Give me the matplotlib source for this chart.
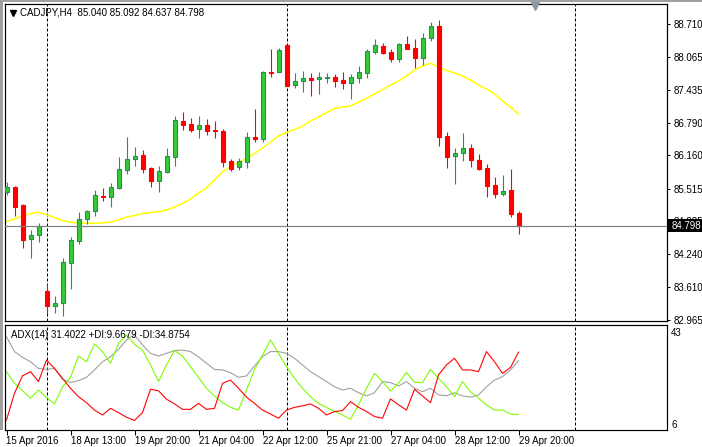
"""MT4-style CADJPY H4 chart with SMA overlay and ADX sub-window."""

import matplotlib

matplotlib.use("Agg")
import matplotlib.pyplot as plt
from matplotlib.patches import Rectangle
import numpy as np

W, H = 702, 447

symbol_title = "CADJPY,H4  85.040 85.092 84.637 84.798"
adx_title = "ADX(14) 31.4022 +DI:9.6679 -DI:34.8754"

opens = [85.451, 85.548, 85.199, 84.539, 84.617, 83.531, 83.238, 83.296, 84.073, 84.501,
         84.927, 85.083, 85.374, 85.354, 85.529, 85.878, 86.091, 86.169, 85.917, 85.665,
         85.839, 86.130, 86.829, 86.770, 86.674, 86.751, 86.654, 86.635, 86.053, 85.936,
         86.033, 86.518, 86.479, 87.779, 87.779, 88.303, 87.527, 87.605, 87.663, 87.643,
         87.663, 87.682, 87.624, 87.566, 87.663, 87.760, 88.167, 88.284, 88.167, 88.031,
         88.322, 88.245, 88.051, 88.439, 88.672, 86.538, 86.150, 86.208, 86.305, 86.072,
         85.917, 85.587, 85.412, 85.490, 85.040]
highs = [85.645, 85.568, 85.218, 84.714, 84.850, 83.666, 83.434, 84.170, 84.578, 85.063,
         85.102, 85.490, 85.529, 85.626, 86.130, 86.518, 86.324, 86.266, 85.936, 85.956,
         86.305, 86.926, 87.003, 86.887, 86.926, 86.867, 86.829, 86.674, 86.091, 86.111,
         86.615, 87.061, 87.799, 88.226, 88.245, 88.303, 87.760, 87.799, 87.760, 87.779,
         87.760, 87.740, 87.779, 87.740, 87.896, 88.226, 88.419, 88.342, 88.226, 88.342,
         88.478, 88.419, 88.536, 88.749, 88.788, 86.615, 86.305, 86.596, 86.382, 86.188,
         85.994, 85.742, 85.781, 85.897, 85.092]
lows = [85.393, 84.986, 84.365, 84.170, 84.481, 83.084, 83.104, 83.046, 83.569, 84.442,
        84.830, 84.986, 85.277, 85.160, 85.509, 85.800, 85.956, 85.820, 85.548, 85.451,
        85.820, 85.956, 86.654, 86.615, 86.499, 86.557, 86.499, 85.936, 85.859, 85.878,
        85.917, 86.421, 86.421, 87.682, 87.779, 87.508, 87.469, 87.391, 87.314, 87.352,
        87.566, 87.488, 87.449, 87.255, 87.566, 87.663, 88.128, 88.128, 87.973, 87.973,
        88.226, 87.857, 87.915, 88.381, 86.344, 85.917, 85.606, 86.053, 85.936, 85.878,
        85.354, 85.335, 85.374, 84.966, 84.637]
closes = [85.548, 85.160, 84.520, 84.617, 84.792, 83.238, 83.296, 84.093, 84.520, 84.927,
          85.083, 85.393, 85.354, 85.548, 85.897, 86.091, 86.150, 85.897, 85.665, 85.859,
          86.150, 86.848, 86.751, 86.654, 86.751, 86.635, 86.635, 86.033, 85.897, 86.053,
          86.518, 86.479, 87.779, 87.760, 88.206, 87.508, 87.605, 87.663, 87.624, 87.682,
          87.682, 87.605, 87.566, 87.682, 87.779, 88.187, 88.303, 88.148, 88.031, 88.322,
          88.226, 88.051, 88.439, 88.672, 86.518, 86.130, 86.208, 86.305, 86.072, 85.897,
          85.568, 85.412, 85.471, 85.024, 84.798]

sma_values = [84.879, 84.927, 84.986, 85.034, 85.057, 85.013, 84.955, 84.899, 84.864, 84.850,
              84.844, 84.844, 84.850, 84.869, 84.908, 84.966, 84.995, 85.034, 85.053, 85.073,
              85.102, 85.160, 85.228, 85.315, 85.432, 85.529, 85.684, 85.839, 85.946, 86.024,
              86.101, 86.198, 86.305, 86.421, 86.538, 86.606, 86.664, 86.732, 86.829, 86.906,
              86.994, 87.071, 87.100, 87.120, 87.197, 87.265, 87.352, 87.439, 87.527, 87.605,
              87.702, 87.818, 87.896, 87.948, 87.876, 87.808, 87.760, 87.702, 87.624, 87.527,
              87.449, 87.352, 87.217, 87.100, 86.964]

adx_main = [41.1, 35.1, 32.8, 31.0, 28.3, 27.9, 28.3, 23.9, 22.6, 23.4,
            24.7, 27.7, 31.0, 33.0, 36.0, 39.8, 41.8, 37.8, 34.4, 33.3,
            34.4, 35.5, 35.7, 35.1, 33.0, 30.4, 27.9, 27.7, 26.6, 24.7,
            25.3, 29.3, 33.0, 35.1, 35.1, 34.4, 32.4, 29.7, 27.0, 25.0,
            23.0, 20.9, 19.6, 20.3, 18.5, 17.2, 18.5, 23.0, 22.6, 21.2,
            23.0, 20.3, 18.9, 20.3, 17.6, 17.3, 18.5, 17.2, 16.7, 17.6,
            20.9, 23.6, 25.0, 27.7, 31.4]
plus_di = [27.0, 22.3, 19.3, 16.3, 19.6, 16.5, 14.0, 20.9, 24.7, 33.3,
           31.0, 38.2, 35.1, 30.4, 38.4, 41.8, 38.0, 35.7, 29.7, 23.0,
           29.7, 35.5, 33.3, 29.0, 24.7, 20.3, 17.2, 14.5, 12.6, 11.5,
           19.6, 27.9, 33.7, 39.8, 34.4, 29.0, 24.3, 20.3, 16.9, 14.2,
           12.6, 10.9, 9.5, 7.8, 13.6, 20.3, 26.3, 23.0, 19.2, 22.3,
           26.7, 22.7, 22.6, 27.9, 24.3, 20.9, 16.9, 23.0, 18.9, 16.3,
           13.6, 11.5, 11.5, 9.9, 9.7]
minus_di = [7.5, 18.3, 25.3, 27.0, 23.0, 31.7, 28.3, 24.3, 20.3, 16.9,
            14.5, 11.5, 9.5, 12.2, 10.5, 8.6, 7.3, 10.5, 19.9, 19.3,
            15.9, 14.0, 11.8, 11.8, 14.2, 11.8, 12.2, 22.3, 23.6, 20.3,
            16.7, 14.2, 11.5, 9.9, 8.2, 11.5, 12.6, 13.2, 14.0, 12.2,
            9.5, 10.9, 11.3, 14.9, 12.6, 10.9, 8.9, 8.2, 16.0, 13.6,
            11.5, 19.9, 17.2, 14.5, 25.7, 29.7, 32.4, 27.7, 27.7, 27.0,
            35.1, 31.0, 26.3, 28.7, 34.9]

price_ticks = [88.710, 88.065, 87.435, 86.790, 86.160, 85.515, 84.885, 84.240, 83.610, 82.965]
time_tick_bars = [0, 8, 16, 24, 32, 40, 48, 56, 64]
time_tick_labels = ["15 Apr 2016", "18 Apr 13:00", "19 Apr 20:00", "21 Apr 04:00",
                    "22 Apr 12:00", "25 Apr 21:00", "27 Apr 04:00", "28 Apr 12:00",
                    "29 Apr 20:00"]
separator_bars = [5, 35, 71]
shift_marker_bar = 66
last_price = 84.798
adx_labels = [43, 6]

BULL_FACE = "#32cd32"
BULL_EDGE = "#2e8b57"
BEAR = "#ff0000"
PX = 0.72  # one pixel in points at 100 dpi

plt.rcParams["font.family"] = ["Liberation Sans", "DejaVu Sans"]
plt.rcParams["font.size"] = 7


def fx(px):
    return px / W


def fy(py):
    return 1 - py / H


fig = plt.figure(figsize=(W / 100, H / 100), dpi=100)
fig.patch.set_facecolor("white")

# bar k sits at pixel 6.5 + 8k, plot area spans x 5..667
x_left = -(6.5 - 5) / 8
x_right = x_left + (667 - 5) / 8

ax = fig.add_axes([fx(5), fy(321), (667 - 5) / W, (321 - 4) / H])
ax_adx = fig.add_axes([fx(5), fy(430), (667 - 5) / W, (430 - 325) / H])

for a in (ax, ax_adx):
    a.set_xlim(x_left, x_right)
    a.set_facecolor("white")
    for s in a.spines.values():
        s.set_linewidth(PX * 1.2)
        s.set_color("black")
    for b in separator_bars:
        a.axvline(b, color="black", lw=PX, ls=(0, (3, 2)), zorder=1)

# ---- price panel
px_per_unit = 51.56
y_top = 88.710 + (24 - 4) / px_per_unit
y_bot = y_top - (321 - 4) / px_per_unit
ax.set_ylim(y_bot, y_top)

o = np.array(opens)
h = np.array(highs)
l = np.array(lows)
c = np.array(closes)
x = np.arange(len(o))
up = c >= o

ax.plot(x, sma_values, color="#ffff00", lw=1.1, zorder=2)

ax.vlines(x[up], l[up], h[up], color=BULL_EDGE, lw=PX * 1.1, zorder=3)
ax.vlines(x[~up], l[~up], h[~up], color=BEAR, lw=PX * 1.1, zorder=3)
body_lo = np.minimum(o, c)
body_h = np.maximum(np.abs(c - o), 0.012)
ax.bar(x[up], body_h[up], 0.5, bottom=body_lo[up], color=BULL_FACE,
       edgecolor=BULL_EDGE, linewidth=PX * 1.1, zorder=4)
ax.bar(x[~up], body_h[~up], 0.5, bottom=body_lo[~up], color=BEAR,
       edgecolor=BEAR, linewidth=PX * 1.1, zorder=4)

ax.axhline(last_price, color="#808080", lw=PX * 1.2, zorder=5)

ax.set_xticks([])
ax.yaxis.tick_right()
ax.set_yticks(price_ticks)
ax.set_yticklabels([f"{p:.3f}" for p in price_ticks])
ax.tick_params(axis="y", direction="out", length=2.5, width=PX, pad=2, labelsize=7)

# ---- ADX panel
adx_px_per_unit = (423.7 - 332) / (43 - 6)
adx_top = 43 + (332 - 325) / adx_px_per_unit
adx_bot = adx_top - (430 - 325) / adx_px_per_unit
ax_adx.set_ylim(adx_bot, adx_top)
ax_adx.plot(np.arange(len(adx_main)), adx_main, color="#a0a0a0", lw=PX * 1.1)
ax_adx.plot(np.arange(len(plus_di)), plus_di, color="#7cfc00", lw=PX * 1.1)
ax_adx.plot(np.arange(len(minus_di)), minus_di, color="#ff0000", lw=PX * 1.1)

ax_adx.yaxis.tick_right()
ax_adx.set_yticks(adx_labels)
ax_adx.set_yticklabels([str(v) for v in adx_labels])
ax_adx.tick_params(axis="y", direction="out", length=0, pad=3, labelsize=7)
ax_adx.set_xticks(time_tick_bars)
ax_adx.set_xticklabels(time_tick_labels, ha="left")
ax_adx.tick_params(axis="x", direction="out", length=3.5, width=PX, pad=1, labelsize=7)

fig.text(fx(11), fy(335), adx_title, ha="left", va="center", fontsize=7)

# ---- window furniture
fig.text(fx(20.5), fy(12.7), symbol_title, ha="left", va="center", fontsize=7)
fig.lines.append(plt.Line2D([fx(12.7)], [fy(13)], marker="v", markersize=4.5,
                            color="black", transform=fig.transFigure))
ax.plot([shift_marker_bar], [y_top - 2 / px_per_unit], marker="v", markersize=6,
        color="#8c96a0", clip_on=False, zorder=6)

fig.patches.append(Rectangle((0, fy(2)), 1, 2 / H, transform=fig.transFigure,
                             color="#a0a0a0", lw=0))
fig.patches.append(Rectangle((0, fy(430)), 2.5 / W, 430 / H, transform=fig.transFigure,
                             color="#a0a0a0", lw=0))

# current price tag, drawn over the partly hidden 84.885 label as in the terminal
fig.patches.append(Rectangle((fx(668), fy(232)), 34 / W, 12.5 / H,
                             transform=fig.transFigure, color="black", lw=0, zorder=10))
fig.text(fx(671.5), fy(225.7), f"{last_price:.3f}", color="white", ha="left",
         va="center", fontsize=7, zorder=11)

fig.savefig("out.png", dpi=100, facecolor="white")
plt.close(fig)
